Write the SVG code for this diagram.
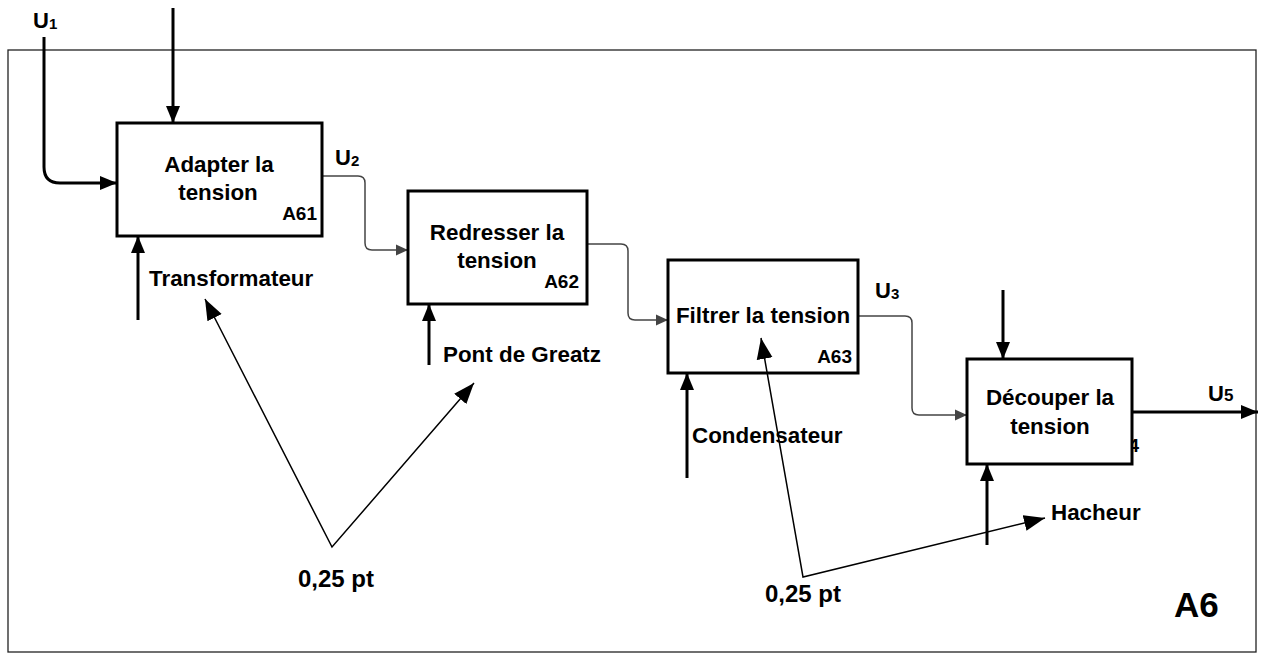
<svg xmlns="http://www.w3.org/2000/svg" width="1264" height="653" viewBox="0 0 1264 653">
<style>
text{font-family:"Liberation Sans",Arial,sans-serif;font-weight:bold;fill:#000}
.t{font-size:22.4px}
.c{text-anchor:middle}
.id{font-size:19px;text-anchor:end}
.u{font-size:22px}
.n{font-size:24px;text-anchor:middle}
.box{fill:#fff;stroke:#000;stroke-width:3}
.thick{fill:none;stroke:#000;stroke-width:3}
.gray{fill:none;stroke:#444;stroke-width:1.5}
.thin{fill:none;stroke:#000;stroke-width:1.5}
</style>
<defs>
<marker id="ah" markerUnits="userSpaceOnUse" markerWidth="18" markerHeight="16" refX="17" refY="8" orient="auto"><path d="M0,1 L17,8 L0,15 z" fill="#000"/></marker>
<marker id="ag" markerUnits="userSpaceOnUse" markerWidth="13" markerHeight="12" refX="12" refY="6" orient="auto"><path d="M0,0.5 L12,6 L0,11.5 z" fill="#444"/></marker>
<marker id="at" markerUnits="userSpaceOnUse" markerWidth="22" markerHeight="18" refX="21" refY="9" orient="auto-start-reverse"><path d="M0,1 L21,9 L0,17 z" fill="#000"/></marker>
<clipPath id="clip4"><rect x="1133" y="430" width="10" height="30"/></clipPath>
</defs>
<rect x="8" y="50" width="1248" height="602" fill="#fff" stroke="#222" stroke-width="1.3"/>
<g id="connectors">
<path class="thick" d="M44,37 V167 Q44,183 60,183 H117" marker-end="url(#ah)"/>
<path class="thick" d="M173,8 V123" marker-end="url(#ah)"/>
<path class="thick" d="M138,320 V236" marker-end="url(#ah)"/>
<path class="gray" d="M322,176 H358 Q365,176 365,183 V243 Q365,250 372,250 H408" marker-end="url(#ag)"/>
<path class="thick" d="M429,365 V304" marker-end="url(#ah)"/>
<path class="gray" d="M587,244 H621 Q628,244 628,251 V313 Q628,320 635,320 H668" marker-end="url(#ag)"/>
<path class="thick" d="M687,478 V373" marker-end="url(#ah)"/>
<path class="gray" d="M858,316 H905 Q912,316 912,323 V408 Q912,415 919,415 H967" marker-end="url(#ag)"/>
<path class="thick" d="M1003,290 V359" marker-end="url(#ah)"/>
<path class="thick" d="M987,545 V464" marker-end="url(#ah)"/>
<path class="thick" d="M1132,412 H1258" marker-end="url(#ah)"/>
</g>
<g id="A61">
<rect class="box" x="117" y="123" width="205" height="113"/>
<text class="t c" x="219" y="172">Adapter la</text>
<text class="t c" x="218" y="200">tension</text>
<text class="id" x="317" y="220">A61</text>
</g>
<g id="A62">
<rect class="box" x="408" y="191" width="179" height="113"/>
<text class="t c" x="497" y="240">Redresser la</text>
<text class="t c" x="497" y="268">tension</text>
<text class="id" x="579" y="288">A62</text>
</g>
<g id="A63">
<rect class="box" x="668" y="260" width="190" height="113"/>
<text class="t c" x="763" y="323">Filtrer la tension</text>
<text class="id" x="852" y="363">A63</text>
</g>
<g id="A64">
<rect class="box" x="967" y="359" width="165" height="105"/>
<text class="t c" x="1050" y="405">Découper la</text>
<text class="t c" x="1050" y="434">tension</text>
<text class="id" x="1139" y="452" clip-path="url(#clip4)">A64</text>
</g>
<g id="labels">
<text class="u" x="33" y="28">U<tspan font-size="15" dy="1">1</tspan></text>
<text class="u" x="335" y="165">U<tspan font-size="15" dy="1">2</tspan></text>
<text class="u" x="875" y="298">U<tspan font-size="15" dy="1">3</tspan></text>
<text class="u" x="1208" y="401">U<tspan font-size="17">5</tspan></text>
<text class="t" x="149" y="286">Transformateur</text>
<text class="t" x="443" y="362">Pont de Greatz</text>
<text class="t" x="692" y="443">Condensateur</text>
<text class="t" x="1051" y="520" font-size="21.5">Hacheur</text>
<text class="n" x="336" y="587">0,25 pt</text>
<text class="n" x="803" y="602">0,25 pt</text>
<text x="1174" y="617" font-size="35">A6</text>
</g>
<g id="notes">
<path class="thin" d="M205,299 L332,547 L474,383" marker-start="url(#at)" marker-end="url(#at)"/>
<path class="thin" d="M761,338 L803,577 L1045,518" marker-start="url(#at)" marker-end="url(#at)"/>
</g>
</svg>
